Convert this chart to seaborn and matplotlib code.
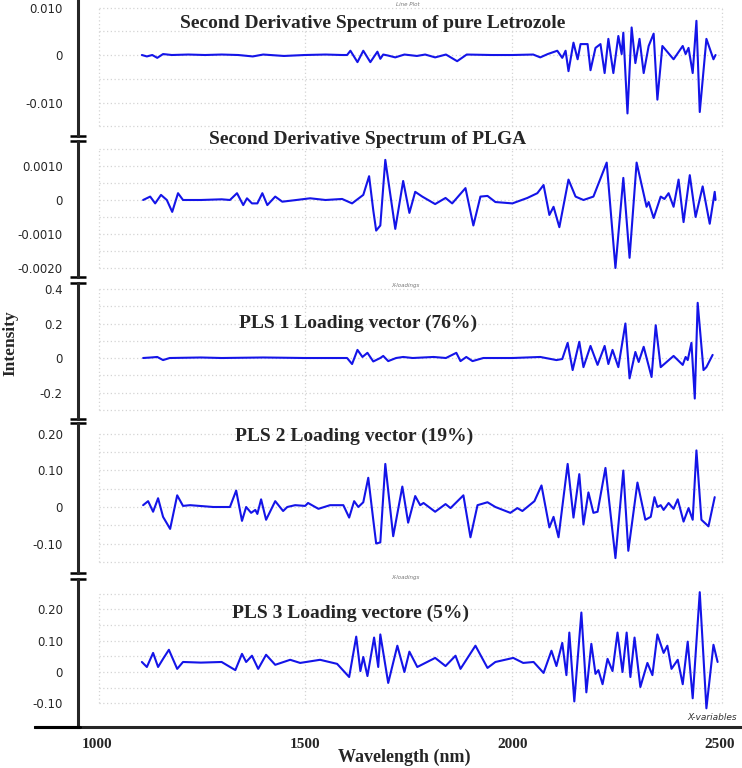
import matplotlib
matplotlib.use("Agg")
import matplotlib.pyplot as plt
import matplotlib.transforms as mtransforms
from matplotlib.ticker import MultipleLocator
import seaborn as sns

# ---- data (wavelength nm, intensity) ----
letrozole = [(1108, 0.0), (1120, -0.0003), (1133, 0.0), (1145, -0.0006), (1159, 0.0002), (1180, 0.0),
             (1220, 0.0001), (1260, 0.0), (1300, 0.0001), (1340, 0.0), (1375, -0.0003), (1400, 0.0001),
             (1450, -0.0002), (1500, 0.0), (1550, 0.0001), (1590, 0.0), (1602, 0.0), (1610, 0.0009),
             (1627, -0.0015), (1641, 0.0009), (1658, -0.0015), (1675, 0.0007), (1682, -0.0008),
             (1689, 0.0001), (1700, -0.0001), (1718, -0.0005), (1740, 0.0001), (1770, -0.0002),
             (1790, 0.0001), (1814, -0.0005), (1840, 0.0001), (1867, -0.0013), (1890, 0.0001),
             (1950, 0.0), (2000, 0.0), (2050, 0.0001), (2067, -0.0005), (2085, 0.0002), (2108, 0.0009),
             (2120, -0.0006), (2128, 0.0009), (2135, -0.0034), (2147, 0.0026), (2157, -0.0009),
             (2164, 0.0023), (2181, 0.0023), (2188, -0.0032), (2200, 0.0015), (2212, 0.0023),
             (2222, -0.0038), (2231, 0.0034), (2243, -0.0038), (2255, 0.004), (2263, 0.0002),
             (2267, 0.0047), (2277, -0.0123), (2287, 0.0058), (2296, -0.0017), (2306, 0.0034),
             (2316, -0.0038), (2328, 0.0019), (2340, 0.0045), (2349, -0.0094), (2361, 0.0019),
             (2388, -0.0009), (2410, 0.0019), (2417, 0.0002), (2424, 0.0015), (2434, -0.0038),
             (2443, 0.0072), (2451, -0.012), (2467, 0.0034), (2484, -0.0009), (2489, 0.0)]

plga = [(1111, 0.0), (1128, 0.0001), (1140, -0.0001), (1154, 0.00015), (1168, 0.0), (1181, -0.00035),
        (1195, 0.0002), (1207, 0.0), (1250, 0.0), (1300, 0.00002), (1320, 0.0), (1337, 0.0002),
        (1352, -0.00015), (1361, 0.00005), (1373, -0.0001), (1386, -0.0001), (1398, 0.0002),
        (1410, -0.00015), (1429, 0.0001), (1446, -0.00005), (1480, 0.0), (1513, 0.00005), (1550, 0.0),
        (1590, 0.00003), (1614, -0.0001), (1641, 0.00015), (1655, 0.0007), (1665, -0.0003),
        (1672, -0.0009), (1682, -0.00075), (1694, 0.00118), (1718, -0.00085), (1737, 0.00056),
        (1752, -0.00038), (1766, 0.00024), (1783, 0.0001), (1814, -0.00012), (1839, 0.00006),
        (1855, -0.0001), (1887, 0.00035), (1906, -0.00075), (1923, 0.0001), (1940, 0.00012),
        (1959, -0.00006), (2000, -0.0001), (2036, 0.00006), (2060, 0.0002), (2075, 0.00044),
        (2089, -0.00044), (2099, -0.0002), (2113, -0.0008), (2135, 0.0006), (2152, 0.0001),
        (2171, 0.0), (2195, 0.0001), (2227, 0.0011), (2248, -0.002), (2267, 0.00065), (2282, -0.0017),
        (2299, 0.0011), (2323, -0.0002), (2328, -0.00006), (2340, -0.00053), (2357, 0.0001),
        (2366, 0.00003), (2376, 0.0002), (2388, -0.0002), (2400, 0.0006), (2412, -0.00065),
        (2427, 0.00073), (2441, -0.0005), (2458, 0.0004), (2475, -0.0007), (2487, 0.00024), (2489, 0.0)]

pls1 = [(1111, 0.0), (1130, 0.003), (1145, 0.006), (1159, -0.012), (1175, 0.0), (1250, 0.003),
        (1300, 0.0), (1400, 0.003), (1500, 0.0), (1602, 0.0), (1614, -0.035), (1627, 0.047),
        (1639, 0.006), (1651, 0.03), (1665, -0.02), (1682, 0.0), (1689, 0.012), (1701, -0.018),
        (1720, 0.0), (1737, 0.006), (1760, 0.0), (1810, 0.006), (1840, 0.0), (1865, 0.03),
        (1875, -0.018), (1889, 0.006), (1904, -0.018), (1930, 0.0), (2000, 0.0), (2067, 0.006),
        (2106, -0.012), (2120, -0.006), (2133, 0.088), (2145, -0.07), (2161, 0.094), (2171, -0.053),
        (2188, 0.07), (2205, -0.04), (2222, 0.07), (2231, -0.035), (2241, 0.047), (2255, -0.053),
        (2272, 0.2), (2282, -0.118), (2296, 0.035), (2304, -0.023), (2316, 0.065), (2335, -0.11),
        (2345, 0.19), (2357, -0.053), (2388, 0.012), (2410, -0.04), (2417, 0.006), (2422, -0.012),
        (2431, 0.088), (2439, -0.235), (2446, 0.32), (2460, -0.07), (2467, -0.053), (2482, 0.018)]

pls2 = [(1111, 0.005), (1123, 0.016), (1135, -0.013), (1147, 0.024), (1159, -0.027), (1176, -0.06),
        (1193, 0.032), (1207, 0.003), (1224, 0.005), (1280, 0.0), (1320, 0.0), (1335, 0.045),
        (1349, -0.038), (1359, 0.0), (1371, -0.016), (1381, -0.008), (1386, -0.019), (1395, 0.021),
        (1407, -0.035), (1429, 0.016), (1448, -0.011), (1458, 0.0), (1477, 0.005), (1501, 0.003),
        (1508, 0.011), (1533, -0.005), (1561, 0.005), (1593, 0.005), (1607, -0.029), (1619, 0.016),
        (1629, 0.0), (1641, 0.013), (1653, 0.08), (1665, -0.035), (1672, -0.1), (1682, -0.097),
        (1694, 0.118), (1713, -0.08), (1735, 0.056), (1749, -0.043), (1766, 0.03), (1778, 0.005),
        (1786, 0.011), (1814, -0.013), (1839, 0.008), (1851, -0.003), (1882, 0.032), (1899, -0.083),
        (1916, 0.005), (1940, 0.013), (1959, 0.0), (1995, -0.016), (2012, -0.003), (2024, -0.011),
        (2053, 0.016), (2070, 0.059), (2089, -0.056), (2099, -0.027), (2111, -0.083), (2133, 0.118),
        (2147, -0.029), (2161, 0.09), (2171, -0.048), (2183, 0.04), (2195, -0.016), (2205, -0.013),
        (2224, 0.107), (2248, -0.14), (2267, 0.10), (2279, -0.12), (2301, 0.067), (2320, -0.035),
        (2333, -0.027), (2342, 0.027), (2349, 0.0), (2357, 0.005), (2364, -0.008), (2376, 0.011),
        (2388, -0.005), (2398, 0.021), (2412, -0.04), (2424, -0.003), (2434, -0.035), (2443, 0.155),
        (2455, -0.035), (2472, -0.053), (2487, 0.027)]

pls3 = [(1108, 0.032), (1120, 0.016), (1135, 0.061), (1147, 0.016), (1159, 0.042), (1173, 0.071),
        (1193, 0.01), (1207, 0.032), (1250, 0.03), (1300, 0.032), (1333, 0.006), (1349, 0.058),
        (1359, 0.032), (1373, 0.052), (1388, 0.01), (1407, 0.055), (1429, 0.023), (1465, 0.039),
        (1489, 0.029), (1537, 0.039), (1578, 0.026), (1607, -0.016), (1624, 0.113), (1634, 0.003),
        (1641, 0.048), (1651, -0.013), (1667, 0.11), (1677, 0.016), (1682, 0.12), (1701, -0.035),
        (1723, 0.084), (1740, 0.0), (1752, 0.065), (1771, 0.016), (1814, 0.045), (1839, 0.019),
        (1863, 0.052), (1875, 0.01), (1911, 0.084), (1940, 0.013), (1959, 0.032), (2002, 0.045),
        (2026, 0.029), (2051, 0.032), (2075, -0.003), (2094, 0.068), (2106, 0.019), (2120, 0.093),
        (2130, -0.01), (2137, 0.126), (2149, -0.094), (2166, 0.19), (2178, -0.065), (2190, 0.09),
        (2200, -0.006), (2207, 0.006), (2217, -0.039), (2229, 0.042), (2241, 0.003), (2253, 0.126),
        (2265, 0.0), (2275, 0.126), (2284, -0.016), (2294, 0.11), (2308, -0.048), (2325, 0.029),
        (2337, -0.01), (2349, 0.12), (2364, 0.061), (2373, 0.084), (2383, 0.01), (2398, 0.039),
        (2410, -0.039), (2422, 0.097), (2434, -0.084), (2451, 0.255), (2467, -0.116), (2484, 0.087),
        (2494, 0.032)]

series = [letrozole, plga, pls1, pls2, pls3]
titles = ["Second Derivative Spectrum of pure Letrozole",
          "Second Derivative Spectrum of PLGA",
          "PLS 1 Loading vector (76%)",
          "PLS 2 Loading vector (19%)",
          "PLS 3 Loading vectore (5%)"]
ytick_vals = [[0.010, 0, -0.010], [0.0010, 0, -0.0010, -0.0020], [0.4, 0.2, 0, -0.2],
              [0.20, 0.10, 0, -0.10], [0.20, 0.10, 0, -0.10]]
ytick_text = [["0.010", "0", "-0.010"], ["0.0010", "0", "-0.0010", "-0.0020"],
              ["0.4", "0.2", "0", "-0.2"], ["0.20", "0.10", "0", "-0.10"], ["0.20", "0.10", "0", "-0.10"]]
ylims = [(-0.01705, 0.01158), (-0.002265, 0.001735), (-0.3536, 0.4348), (-0.1808, 0.2301), (-0.1757, 0.2971)]
minor_steps = [0.01 / 6, 0.00025, 0.05, 0.01, 0.02]
grid_steps = [(-0.015, 0.010, 0.005), (-0.0020, 0.0015, 0.0005), (-0.3, 0.4, 0.1),
              (-0.15, 0.20, 0.05), (-0.10, 0.25, 0.05)]
xticks = [1000, 1500, 2000, 2500]

# ---- layout (pixel rows of each panel in a 742x768 canvas) ----
W, H = 742, 768
rows = [(0, 136), (141, 277), (283, 419), (423, 573), (579, 727)]
title_pos = [(373, 23), (368, 140), (358, 323), (354, 436), (351, 613)]
XMIN, XMAX, SPINE_X = 850.7, 2552.7, 954.3

sns.set_style("white")
plt.rcParams["font.family"] = ["DejaVu Sans"]
serif_bold = dict(family="Liberation Serif", weight="bold")
blue = "#1414e8"

fig = plt.figure(figsize=(W / 100, H / 100), dpi=100)

for i, (data, (top, bot)) in enumerate(zip(series, rows)):
    ax = fig.add_axes([35 / W, 1 - bot / H, 707 / W, (bot - top) / H])
    ax.set_facecolor("none")
    ax.set_xlim(XMIN, XMAX)
    ax.set_ylim(*ylims[i])

    # dotted background grid limited to the plotting box
    g0, g1, gs = grid_steps[i]
    n = int(round((g1 - g0) / gs))
    gvals = [g0 + k * gs for k in range(n + 1)]
    ax.hlines(gvals, 1005, 2505, colors="#d4d4d4", linestyles=(0, (1, 2)), lw=0.9, zorder=0)
    ax.vlines([1005, 1500, 2000, 2505], g0, g1, colors="#d4d4d4", linestyles=(0, (1, 2)), lw=0.9, zorder=0)

    xs = [p[0] for p in data]
    ys = [p[1] for p in data]
    sns.lineplot(x=xs, y=ys, ax=ax, color=blue, lw=1.5, sort=False, estimator=None,
                 solid_joinstyle="round", solid_capstyle="round")

    for s in ["top", "right"]:
        ax.spines[s].set_visible(False)
    ax.spines["left"].set_position(("data", SPINE_X))
    ax.spines["left"].set_linewidth(2.2)
    ax.set_yticks(ytick_vals[i])
    ax.set_yticklabels(ytick_text[i], fontsize=8.5)
    ax.yaxis.set_minor_locator(MultipleLocator(minor_steps[i]))
    ax.tick_params(axis="y", which="major", direction="out", length=7, width=1.1, pad=4)
    ax.tick_params(axis="y", which="minor", direction="out", length=4.3, width=1.0)

    if i < 4:
        ax.spines["bottom"].set_visible(False)
        ax.set_xticks([])
    else:
        ax.spines["bottom"].set_linewidth(2.2)
        ax.set_xticks(xticks)
        ax.set_xticklabels([str(v) for v in xticks], fontsize=11, **serif_bold)
        ax.xaxis.set_minor_locator(MultipleLocator(100))
        ax.tick_params(axis="x", which="both", direction="out", length=3, width=1.1, pad=5)

    ax.set_xlabel("")
    ax.set_ylabel("")

    # axis break marks on the left spine
    trans = mtransforms.blended_transform_factory(ax.transData, ax.transAxes)
    if i > 0:
        ax.plot([935, 974], [1, 1], transform=trans, color="black", lw=1.8, clip_on=False, solid_capstyle="butt")
    if i < 4:
        ax.plot([935, 974], [0, 0], transform=trans, color="black", lw=1.8, clip_on=False, solid_capstyle="butt")

    tx, ty = title_pos[i]
    fig.text(tx / W, 1 - ty / H, titles[i], ha="center", va="center", fontsize=14, **serif_bold)

# small software captions
fig.text(408 / W, 1 - 5 / H, "Line Plot", ha="center", va="center", fontsize=4, style="italic", color="#777777")
fig.text(405 / W, 1 - 286 / H, "X-loadings", ha="center", va="center", fontsize=4, style="italic", color="#777777")
fig.text(405 / W, 1 - 577 / H, "X-loadings", ha="center", va="center", fontsize=4, style="italic", color="#777777")
fig.text(737 / W, 1 - 718 / H, "X-variables", ha="right", va="center", fontsize=6.5, style="italic", color="#333333")

# x axis line continues left of the y spine
fig.add_artist(plt.Line2D([35 / W, 80 / W], [1 - 727 / H, 1 - 727 / H], color="black", lw=2.2))

fig.text(10 / W, 1 - 343 / H, "Intensity", rotation=90, ha="center", va="center", fontsize=12.5, **serif_bold)
fig.text(404 / W, 1 - 757 / H, "Wavelength (nm)", ha="center", va="center", fontsize=13, **serif_bold)

fig.savefig("out.png", dpi=100)
